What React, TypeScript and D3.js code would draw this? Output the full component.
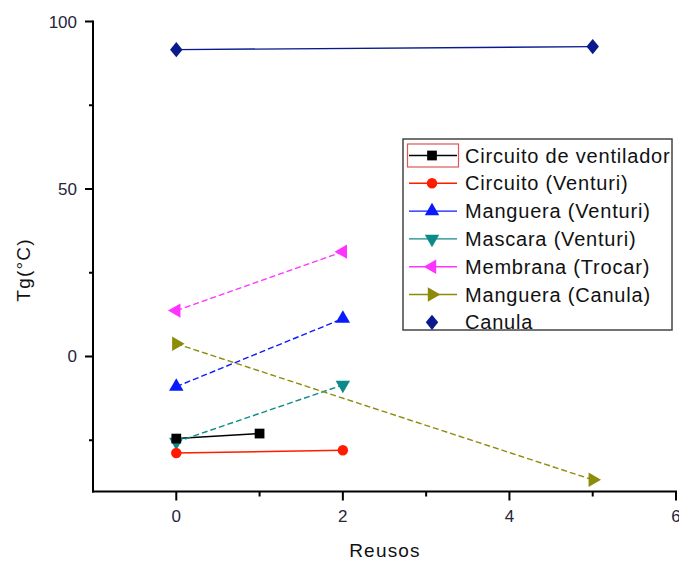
import React, { useEffect, useRef } from 'react';
import * as d3 from 'd3';

// data
const seriesNames = [
  'Circuito de ventilador',
  'Circuito (Venturi)',
  'Manguera (Venturi)',
  'Mascara (Venturi)',
  'Membrana (Trocar)',
  'Manguera (Canula)',
  'Canula',
];
const ventiladorX = [0, 1];
const ventiladorY = [-24.5, -23];
const circuitoX = [0, 2];
const circuitoY = [-28.8, -28];
const mangueraVX = [0, 2];
const mangueraVY = [-9, 11.3];
const mascaraX = [0, 2];
const mascaraY = [-25.5, -8.5];
const membranaX = [0, 2];
const membranaY = [13.7, 31.3];
const mangueraCX = [0, 5];
const mangueraCY = [3.8, -36.8];
const canulaX = [0, 5];
const canulaY = [91.6, 92.5];

const xMajorTicks = [0, 2, 4, 6];
const xMinorTicks = [1, 3, 5];
const yMajorTicks = [0, 50, 100];
const yMinorTicks = [-25, 25, 75];

const diamond = {
  draw(ctx: any, size: number) {
    const h = Math.sqrt(size) * 0.62;
    const w = h * 0.82;
    ctx.moveTo(0, -h);
    ctx.lineTo(w, 0);
    ctx.lineTo(0, h);
    ctx.lineTo(-w, 0);
    ctx.closePath();
  },
};

const App = () => {
  const svgRef = useRef<SVGSVGElement>(null);

  useEffect(() => {
    const width = 679;
    const height = 561;
    const svg = d3.select(svgRef.current).attr('width', width).attr('height', height);
    svg.selectAll('*').remove();

    const x = d3.scaleLinear().domain([-1, 6]).range([93, 676]);
    const y = d3.scaleLinear().domain([-40.3, 100]).range([491.5, 21.5]);

    const series = [
      { name: seriesNames[0], xs: ventiladorX, ys: ventiladorY, color: '#000000', dash: null, sym: d3.symbolSquare, rot: 0, size: 95 },
      { name: seriesNames[1], xs: circuitoX, ys: circuitoY, color: '#ff1a00', dash: null, sym: d3.symbolCircle, rot: 0, size: 85 },
      { name: seriesNames[2], xs: mangueraVX, ys: mangueraVY, color: '#0a1aff', dash: '6,3', sym: d3.symbolTriangle, rot: 0, size: 90 },
      { name: seriesNames[3], xs: mascaraX, ys: mascaraY, color: '#0b8a8a', dash: '6,3', sym: d3.symbolTriangle, rot: 180, size: 90 },
      { name: seriesNames[4], xs: membranaX, ys: membranaY, color: '#ff33ff', dash: '6,3', sym: d3.symbolTriangle, rot: -90, size: 90 },
      { name: seriesNames[5], xs: mangueraCX, ys: mangueraCY, color: '#8c8c0a', dash: '6,3', sym: d3.symbolTriangle, rot: 90, size: 90 },
      { name: seriesNames[6], xs: canulaX, ys: canulaY, color: '#0a1a8c', dash: null, sym: diamond, rot: 0, size: 150 },
    ];

    // axes
    const axes = svg.append('g').attr('stroke', '#000').attr('stroke-width', 2);
    axes.append('line').attr('x1', x(-1)).attr('x2', x(-1)).attr('y1', y(100) - 1).attr('y2', y(-40.3) + 1);
    axes.append('line').attr('x1', x(-1) - 1).attr('x2', x(6) + 1).attr('y1', y(-40.3)).attr('y2', y(-40.3));

    xMajorTicks.forEach(t => {
      axes.append('line').attr('x1', x(t)).attr('x2', x(t)).attr('y1', y(-40.3)).attr('y2', y(-40.3) + 9);
    });
    xMinorTicks.forEach(t => {
      axes.append('line').attr('x1', x(t)).attr('x2', x(t)).attr('y1', y(-40.3)).attr('y2', y(-40.3) + 5);
    });
    yMajorTicks.forEach(t => {
      axes.append('line').attr('x1', x(-1) - 8).attr('x2', x(-1)).attr('y1', y(t)).attr('y2', y(t));
    });
    yMinorTicks.forEach(t => {
      axes.append('line').attr('x1', x(-1) - 4).attr('x2', x(-1)).attr('y1', y(t)).attr('y2', y(t));
    });

    const tickFont = 'Liberation Sans, Arial, sans-serif';
    svg.append('g')
      .selectAll('text')
      .data(xMajorTicks)
      .enter()
      .append('text')
      .attr('x', d => x(d))
      .attr('y', 522)
      .attr('text-anchor', 'middle')
      .attr('font-family', tickFont)
      .attr('font-size', 17)
      .attr('fill', '#25253a')
      .text(d => d);

    svg.append('g')
      .selectAll('text')
      .data(yMajorTicks)
      .enter()
      .append('text')
      .attr('x', 77)
      .attr('y', d => y(d) + 6)
      .attr('text-anchor', 'end')
      .attr('font-family', tickFont)
      .attr('font-size', 17)
      .attr('fill', '#25253a')
      .text(d => d);

    // axis titles
    svg.append('text')
      .attr('x', 385)
      .attr('y', 557)
      .attr('text-anchor', 'middle')
      .attr('font-family', tickFont)
      .attr('font-size', 19)
      .attr('letter-spacing', 1.2)
      .attr('fill', '#111')
      .text('Reusos');

    svg.append('text')
      .attr('transform', 'translate(30, 270) rotate(-90)')
      .attr('text-anchor', 'middle')
      .attr('font-family', tickFont)
      .attr('font-size', 19)
      .attr('letter-spacing', 1.2)
      .attr('fill', '#111')
      .text('Tg(°C)');

    // lines and markers
    const line = d3.line<[number, number]>().x(d => x(d[0])).y(d => y(d[1]));
    series.forEach(s => {
      const pts = s.xs.map((v, i) => [v, s.ys[i]] as [number, number]);
      svg.append('path')
        .attr('d', line(pts))
        .attr('fill', 'none')
        .attr('stroke', s.color)
        .attr('stroke-width', 1.4)
        .attr('stroke-dasharray', s.dash);
    });
    series.slice().reverse().forEach(s => {
      const sym = d3.symbol().type(s.sym as any).size(s.size);
      s.xs.forEach((v, i) => {
        svg.append('path')
          .attr('d', sym())
          .attr('transform', `translate(${x(v)}, ${y(s.ys[i])}) rotate(${s.rot})`)
          .attr('fill', s.color);
      });
    });

    // legend
    const legend = svg.append('g');
    legend.append('rect')
      .attr('x', 403)
      .attr('y', 139)
      .attr('width', 269)
      .attr('height', 191)
      .attr('fill', '#fff')
      .attr('stroke', '#444')
      .attr('stroke-width', 1.5);

    legend.append('rect')
      .attr('x', 407.5)
      .attr('y', 144)
      .attr('width', 51)
      .attr('height', 23)
      .attr('fill', 'none')
      .attr('stroke', '#e05555')
      .attr('stroke-width', 1.2);

    series.forEach((s, i) => {
      const cy = 155.5 + i * 27.8;
      if (i < 6) {
        legend.append('line')
          .attr('x1', 409)
          .attr('x2', 457)
          .attr('y1', cy)
          .attr('y2', cy)
          .attr('stroke', s.color)
          .attr('stroke-width', 1.4);
      }
      const sym = d3.symbol().type(s.sym as any).size(s.size);
      legend.append('path')
        .attr('d', sym())
        .attr('transform', `translate(432, ${cy}) rotate(${s.rot})`)
        .attr('fill', s.color);
      legend.append('text')
        .attr('x', 465)
        .attr('y', cy + 7)
        .attr('font-family', tickFont)
        .attr('font-size', 20)
        .attr('letter-spacing', 0.8)
        .attr('fill', '#111')
        .text(s.name);
    });
  }, []);

  return (
    <svg
      ref={svgRef}
      style={{ position: 'absolute', left: 0, top: 0, background: '#fff' }}
    ></svg>
  );
};

export default App;
